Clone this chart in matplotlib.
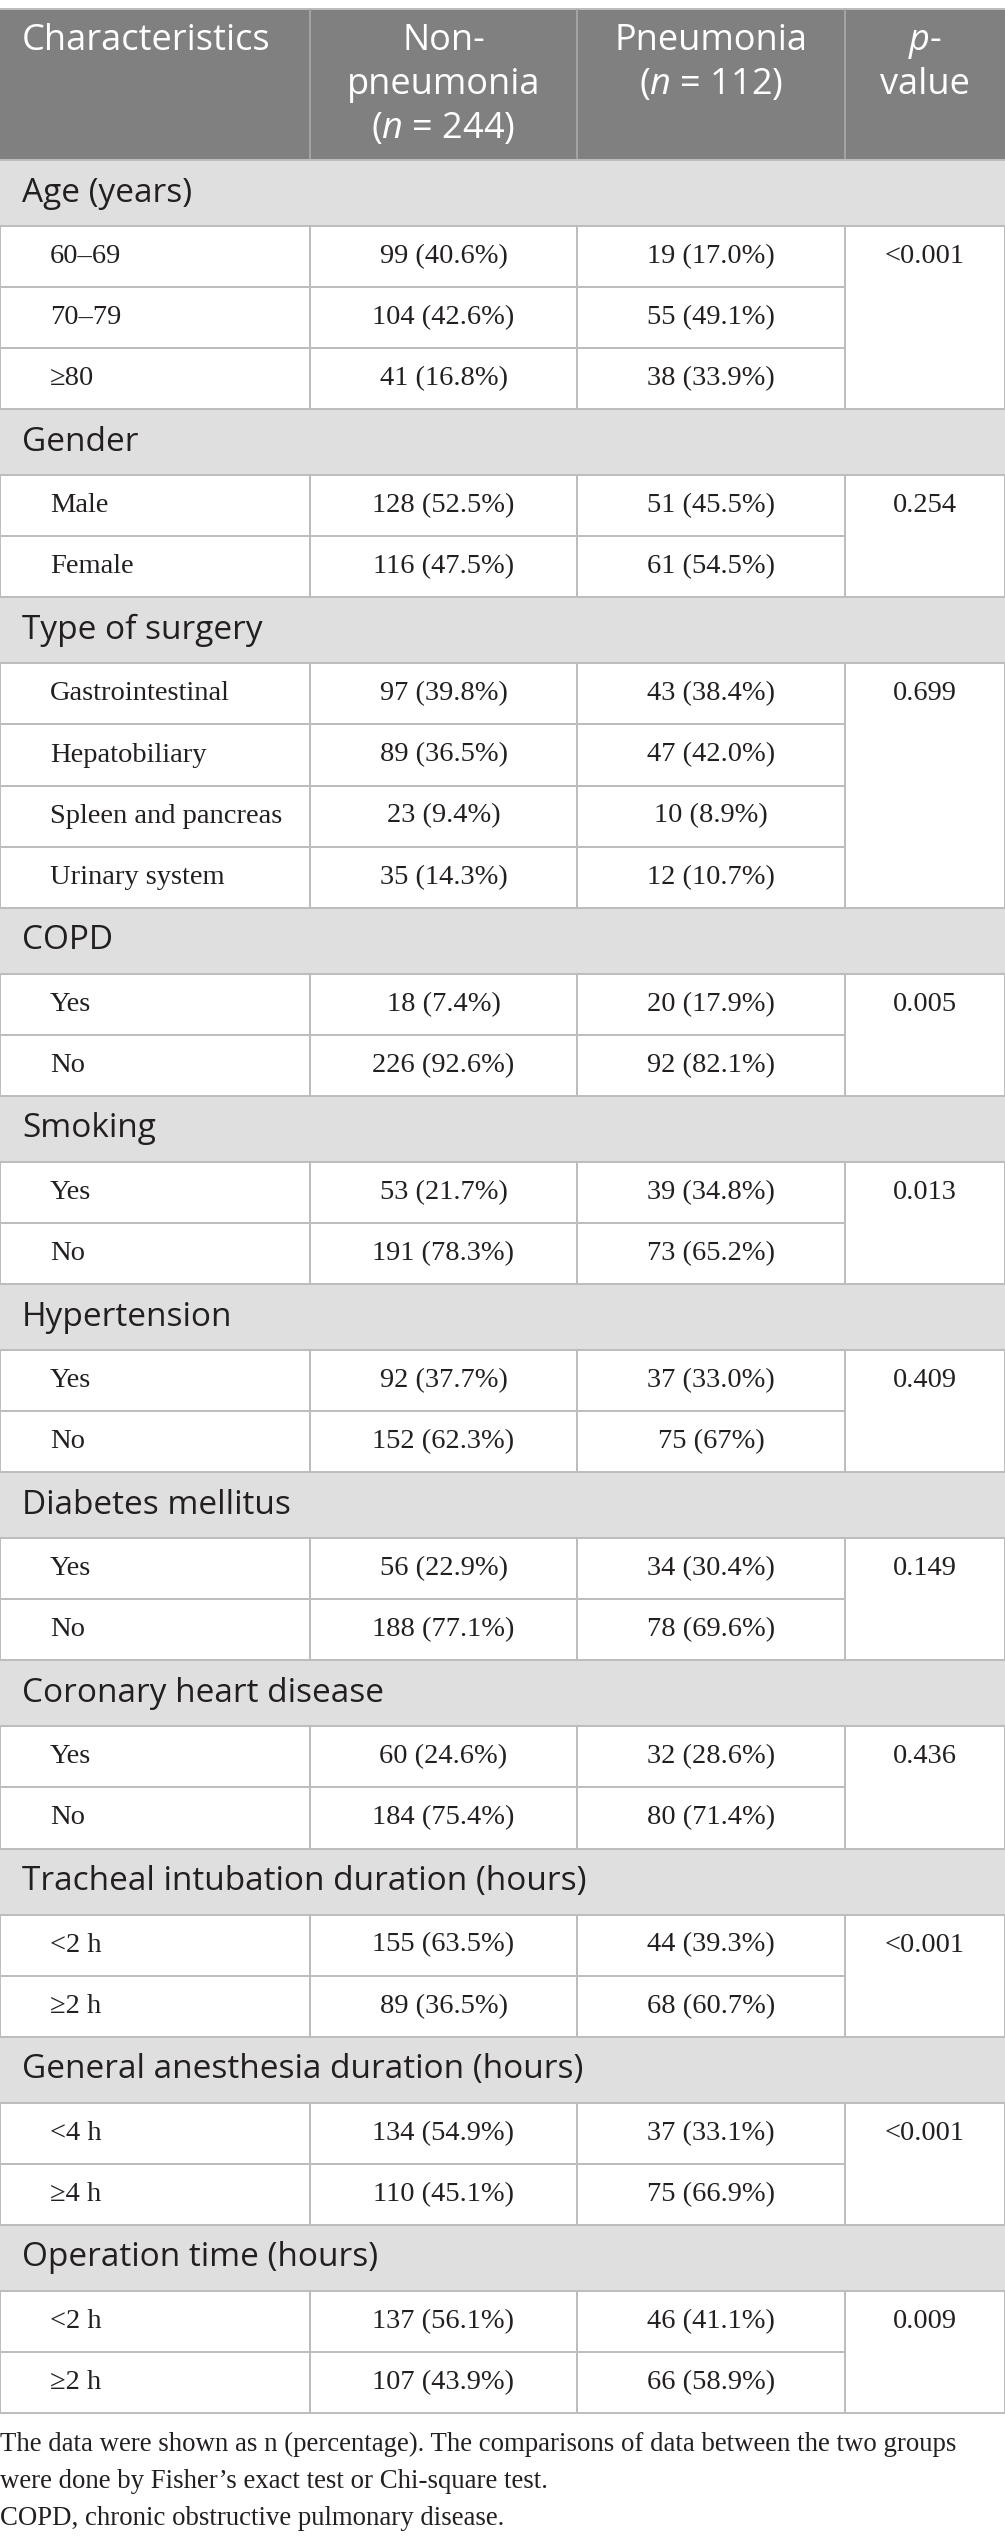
import matplotlib
matplotlib.use("Agg")
import matplotlib.pyplot as plt
from matplotlib.patches import Rectangle

plt.rcParams['mathtext.fontset'] = 'custom'
plt.rcParams['mathtext.rm'] = 'Open Sans'
plt.rcParams['mathtext.it'] = 'Open Sans:italic'

# table content
sections = ['Age (years)', 'Gender', 'Type of surgery', 'COPD', 'Smoking',
            'Hypertension', 'Diabetes mellitus', 'Coronary heart disease',
            'Tracheal intubation duration (hours)',
            'General anesthesia duration (hours)', 'Operation time (hours)']
row_labels = [['60–69', '70–79', '≥80'],
              ['Male', 'Female'],
              ['Gastrointestinal', 'Hepatobiliary', 'Spleen and pancreas', 'Urinary system'],
              ['Yes', 'No'], ['Yes', 'No'], ['Yes', 'No'], ['Yes', 'No'], ['Yes', 'No'],
              ['<2 h', '≥2 h'], ['<4 h', '≥4 h'], ['<2 h', '≥2 h']]
non_pneumonia = [['99 (40.6%)', '104 (42.6%)', '41 (16.8%)'],
                 ['128 (52.5%)', '116 (47.5%)'],
                 ['97 (39.8%)', '89 (36.5%)', '23 (9.4%)', '35 (14.3%)'],
                 ['18 (7.4%)', '226 (92.6%)'],
                 ['53 (21.7%)', '191 (78.3%)'],
                 ['92 (37.7%)', '152 (62.3%)'],
                 ['56 (22.9%)', '188 (77.1%)'],
                 ['60 (24.6%)', '184 (75.4%)'],
                 ['155 (63.5%)', '89 (36.5%)'],
                 ['134 (54.9%)', '110 (45.1%)'],
                 ['137 (56.1%)', '107 (43.9%)']]
pneumonia = [['19 (17.0%)', '55 (49.1%)', '38 (33.9%)'],
             ['51 (45.5%)', '61 (54.5%)'],
             ['43 (38.4%)', '47 (42.0%)', '10 (8.9%)', '12 (10.7%)'],
             ['20 (17.9%)', '92 (82.1%)'],
             ['39 (34.8%)', '73 (65.2%)'],
             ['37 (33.0%)', '75 (67%)'],
             ['34 (30.4%)', '78 (69.6%)'],
             ['32 (28.6%)', '80 (71.4%)'],
             ['44 (39.3%)', '68 (60.7%)'],
             ['37 (33.1%)', '75 (66.9%)'],
             ['46 (41.1%)', '66 (58.9%)']]
p_values = ['<0.001', '0.254', '0.699', '0.005', '0.013', '0.409', '0.149',
            '0.436', '<0.001', '<0.001', '0.009']
headers = [['Characteristics'],
           ['Non-', 'pneumonia', r'($\mathit{n}$ = 244)'],
           ['Pneumonia', r'($\mathit{n}$ = 112)'],
           [r'$\mathit{p}$-', 'value']]
footnote = ['The data were shown as n (percentage). The comparisons of data between the two groups',
            'were done by Fisher’s exact test or Chi-square test.',
            'COPD, chronic obstructive pulmonary disease.']

# layout (pixels)
W, H = 1005, 2545
col_x = [0, 310, 577, 845, 1005]
head_top, head_bot = 9, 160
sec_h = 66
table_bot = 2413
n_rows = sum(len(r) for r in row_labels)
row_h = (table_bot - head_bot - len(sections) * sec_h) / n_rows

head_bg = '#7f807f'
sec_bg = '#e0dfe0'
grid = '#bdbdbd'
txt = '#231f20'
sans = ['Open Sans', 'DejaVu Sans']
serif = ['Liberation Serif', 'DejaVu Serif']
lw = 2 * 72 / 100
fs_data = 20.5

fig = plt.figure(figsize=(W / 100, H / 100), dpi=100)
ax = fig.add_axes([0, 0, 1, 1])
ax.set_xlim(0, W)
ax.set_ylim(H, 0)
ax.axis('off')

# header
ax.add_patch(Rectangle((0, head_top), W, head_bot - head_top, color=head_bg, lw=0))
ax.hlines(head_top, 0, W, color=grid, lw=lw)
for x in col_x[1:-1]:
    ax.vlines(x, head_top, head_bot, color='#a3a3a3', lw=lw)
baselines = [50, 94, 138]
for j, lines in enumerate(headers):
    for k, s in enumerate(lines):
        if j == 0:
            ax.text(22, baselines[k], s, color='white', fontsize=26, family=sans,
                    ha='left', va='baseline')
        else:
            ax.text((col_x[j] + col_x[j + 1]) / 2, baselines[k], s, color='white',
                    fontsize=26, family=sans, ha='center', va='baseline')

y = head_bot
for i, sec in enumerate(sections):
    ax.add_patch(Rectangle((0, y), W, sec_h, color=sec_bg, lw=0))
    ax.hlines([y, y + sec_h], 0, W, color=grid, lw=lw)
    ax.text(22, y + sec_h / 2, sec, color=txt, fontsize=24, family=sans,
            ha='left', va='center')
    y += sec_h
    g_top = y
    for k, lab in enumerate(row_labels[i]):
        yc = y + row_h / 2
        ax.text(50, yc, lab, color=txt, fontsize=fs_data, family=serif, ha='left', va='center')
        ax.text((col_x[1] + col_x[2]) / 2, yc, non_pneumonia[i][k], color=txt,
                fontsize=fs_data, family=serif, ha='center', va='center')
        ax.text((col_x[2] + col_x[3]) / 2, yc, pneumonia[i][k], color=txt,
                fontsize=fs_data, family=serif, ha='center', va='center')
        if k == 0:
            ax.text((col_x[3] + col_x[4]) / 2, yc, p_values[i], color=txt,
                    fontsize=fs_data, family=serif, ha='center', va='center')
        y += row_h
        if k < len(row_labels[i]) - 1:
            ax.hlines(y, 0, col_x[3], color=grid, lw=lw)
    ax.vlines(col_x, g_top, y, color=grid, lw=lw)
ax.hlines(y, 0, W, color=grid, lw=lw)

for k, s in enumerate(footnote):
    ax.text(0, 2451 + 37 * k, s, color=txt, fontsize=19.3, family=serif,
            ha='left', va='baseline')

fig.savefig('out.png', dpi=100)
